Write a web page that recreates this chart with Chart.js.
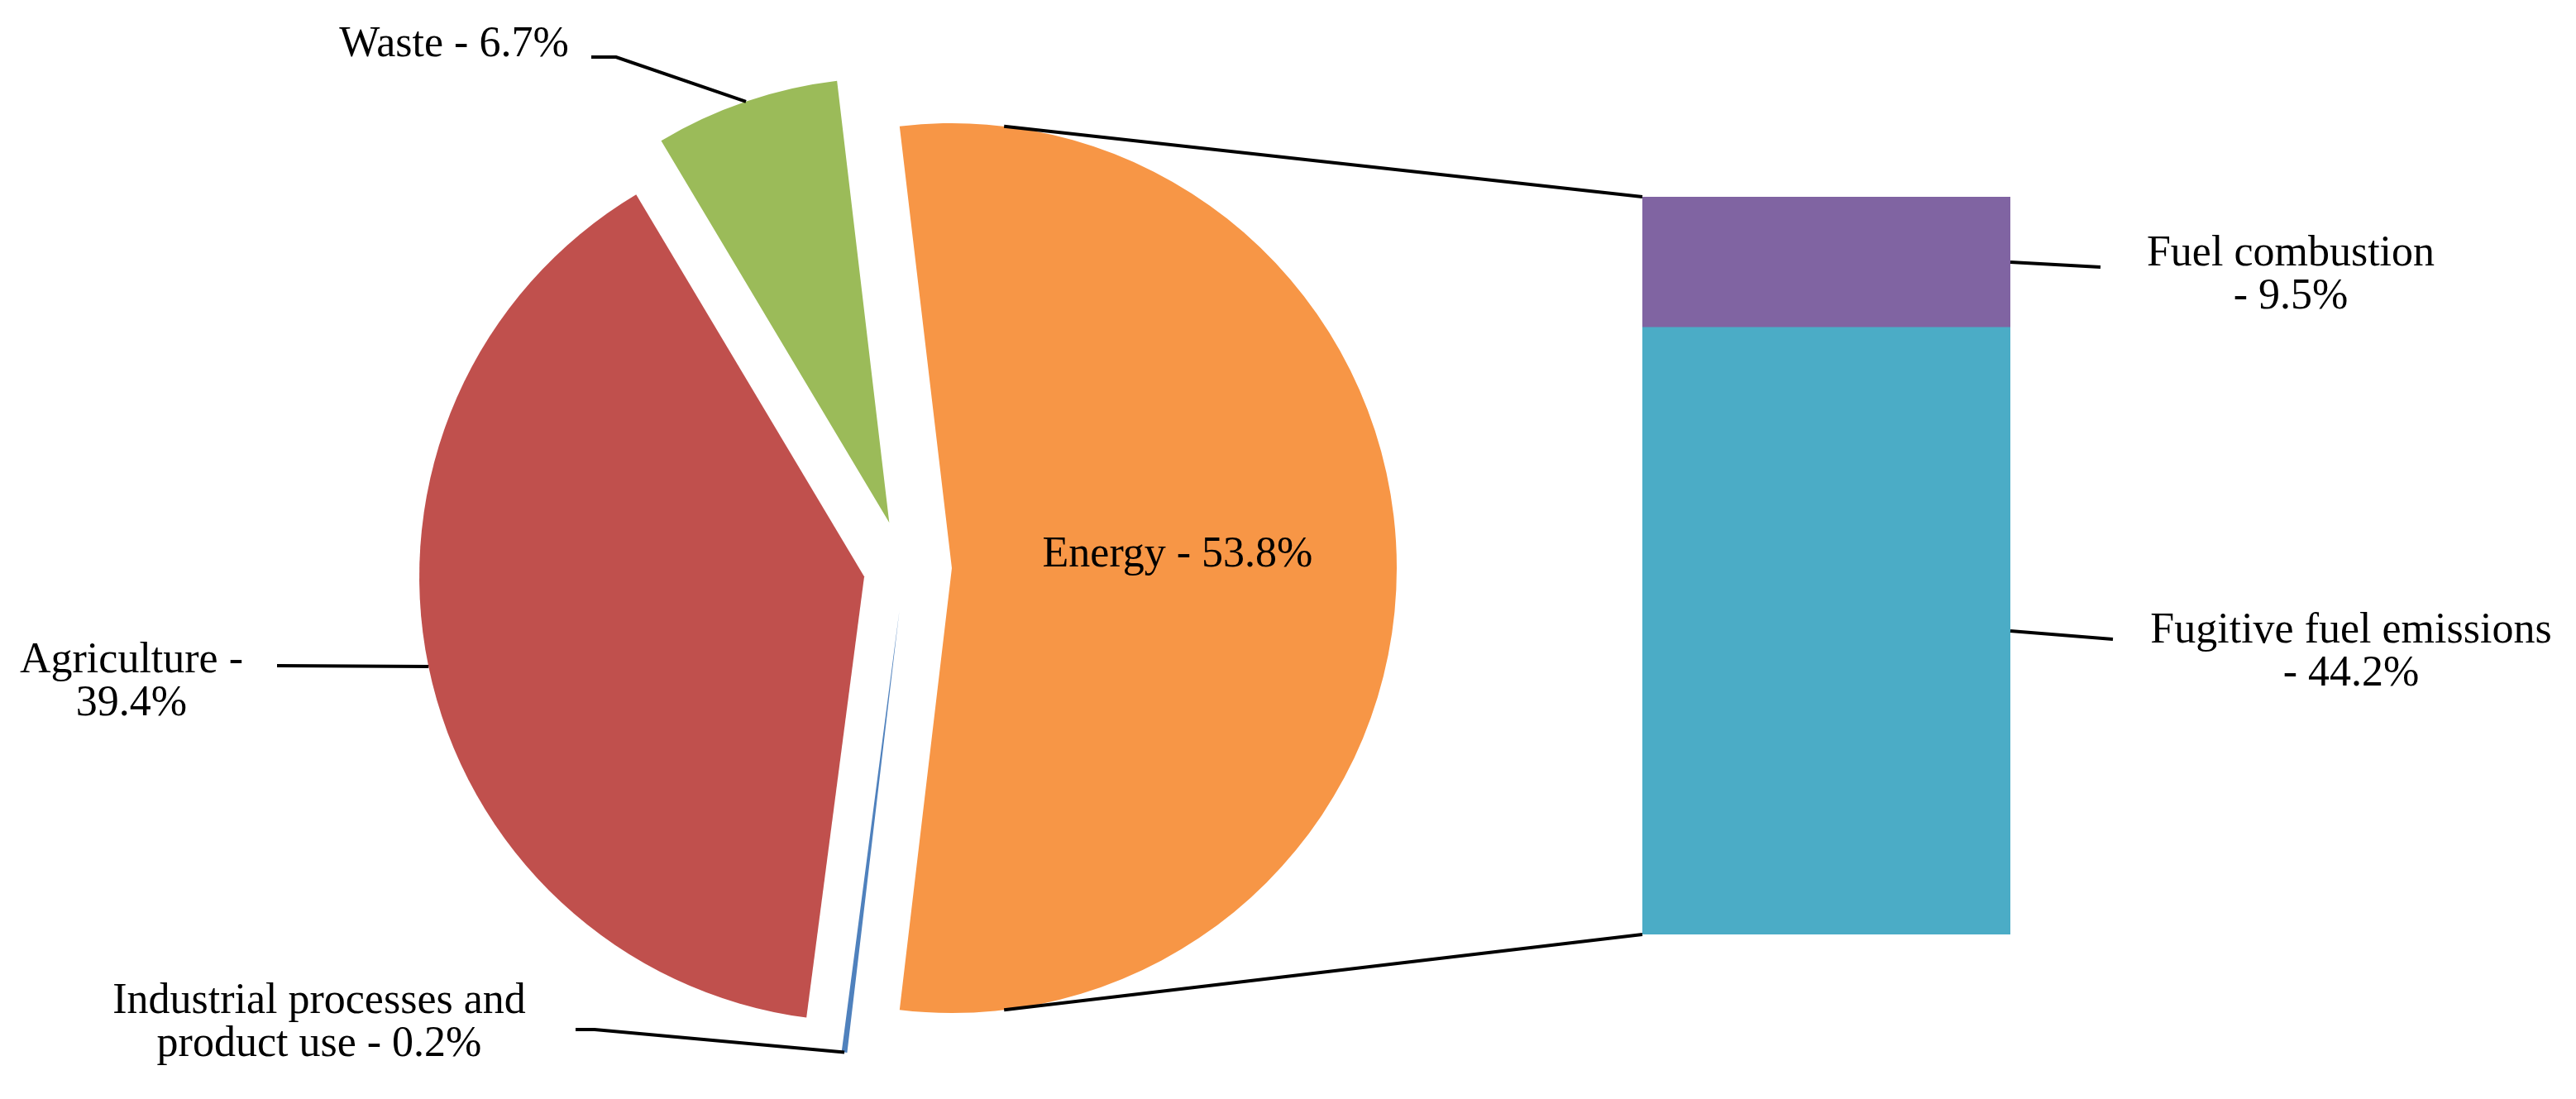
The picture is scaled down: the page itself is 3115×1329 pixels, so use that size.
<!DOCTYPE html>
<html>
<head>
<meta charset="utf-8">
<title>Emissions by sector</title>
<script src="https://cdn.jsdelivr.net/npm/chart.js@4.4.1/dist/chart.umd.min.js"></script>
<style>
  html, body { margin: 0; padding: 0; background: #fff; }
  #wrap { position: relative; width: 3115px; height: 1329px; }
  #wrap canvas { position: absolute; left: 0; top: 0; }
</style>
</head>
<body>
<div id="wrap">
  <canvas id="pieChart" width="3115" height="1329"></canvas>
  <canvas id="barChart" width="3115" height="1329"></canvas>
</div>
<script>
// pie: sectors, clockwise from the top edge of Energy
const sectors = ['Energy', 'Industrial processes and product use', 'Agriculture', 'Waste'];
const sectorShares = [53.8, 0.2, 39.4, 6.7];
const sectorText = [
  ['Energy - 53.8%'],
  ['Industrial processes and', 'product use - 0.2%'],
  ['Agriculture -', '39.4%'],
  ['Waste - 6.7%'],
];

// bar: split of Energy, bottom to top
const energyParts = ['Fugitive fuel emissions', 'Fuel combustion'];
const energyShares = [44.2, 9.5];
const energyText = [
  ['Fugitive fuel emissions', '- 44.2%'],
  ['Fuel combustion', '- 9.5%'],
];

const FONT = '52px "Liberation Serif", "Times New Roman", serif';
const LINE_H = 52;
const PIE_COLORS = ['#F79646', '#4F81BD', '#C0504D', '#9BBB59'];
const BAR_COLORS = ['#4BACC6', '#8064A2'];
const EXPLODE = [57, 52, 50, 58];

// callout layout (text centre x, first baseline, leader knee/end)
const pieCallouts = [
  null,
  { x: 386, y: 1225, knee: [719, 1245], end: [696, 1245] },
  { x: 159, y: 813, knee: null, end: [335, 805] },
  { x: 549, y: 68, knee: [745, 69], end: [715, 69] },
];
const barCallouts = [
  { x: 2843, y: 777, end: [2555, 773] },
  { x: 2770, y: 321, end: [2540, 323] },
];

const total = sectorShares.reduce((a, b) => a + b, 0);
const energyTotal = energyShares.reduce((a, b) => a + b, 0);

function drawLines(ctx, lines, x, y) {
  lines.forEach((t, i) => ctx.fillText(t, x, y + i * LINE_H));
}

const explodePlugin = {
  id: 'explode',
  afterDatasetsUpdate(chart) {
    chart.getDatasetMeta(0).data.forEach((arc, i) => {
      const mid = (arc.startAngle + arc.endAngle) / 2;
      arc.x += Math.cos(mid) * EXPLODE[i];
      arc.y += Math.sin(mid) * EXPLODE[i];
    });
  },
};

const pieLabelPlugin = {
  id: 'pieLabels',
  afterDraw(chart) {
    const ctx = chart.ctx;
    const arcs = chart.getDatasetMeta(0).data;
    ctx.save();
    ctx.font = FONT;
    ctx.fillStyle = '#000';
    ctx.strokeStyle = '#000';
    ctx.lineWidth = 4;
    ctx.textAlign = 'center';
    ctx.textBaseline = 'alphabetic';

    const cp = arcs[0].getCenterPoint();
    drawLines(ctx, sectorText[0], cp.x + 4, cp.y - 2);

    arcs.forEach((arc, i) => {
      const c = pieCallouts[i];
      if (!c) return;
      const mid = (arc.startAngle + arc.endAngle) / 2;
      const px = arc.x + Math.cos(mid) * arc.outerRadius;
      const py = arc.y + Math.sin(mid) * arc.outerRadius;
      ctx.beginPath();
      ctx.moveTo(px, py);
      if (c.knee) ctx.lineTo(c.knee[0], c.knee[1]);
      ctx.lineTo(c.end[0], c.end[1]);
      ctx.stroke();
      drawLines(ctx, sectorText[i], c.x, c.y);
    });
    ctx.restore();
  },
};

const pieChart = new Chart(document.getElementById('pieChart'), {
  type: 'pie',
  data: {
    labels: sectors,
    datasets: [{
      data: sectorShares,
      backgroundColor: PIE_COLORS,
      borderWidth: 0,
    }],
  },
  options: {
    responsive: false,
    animation: false,
    radius: 538,
    rotation: 90 - (sectorShares[0] / total) * 180,
    layout: { padding: { left: 0, right: 927, top: 45, bottom: 0 } },
    plugins: {
      legend: { display: false },
      tooltip: { enabled: false },
    },
  },
  plugins: [explodePlugin, pieLabelPlugin],
});

const barLabelPlugin = {
  id: 'barLabels',
  afterDraw(chart) {
    const ctx = chart.ctx;
    const bars = energyParts.map((_, i) => chart.getDatasetMeta(i).data[0]);
    ctx.save();
    ctx.strokeStyle = '#000';
    ctx.fillStyle = '#000';
    ctx.font = FONT;
    ctx.textAlign = 'center';

    // connectors from the Energy slice to the bar
    const e = pieChart.getDatasetMeta(0).data[0];
    const r = e.outerRadius;
    const topA = -Math.PI - e.startAngle;
    const botA = Math.PI - e.endAngle;
    const topBar = bars[bars.length - 1];
    const botBar = bars[0];
    ctx.lineWidth = 4;
    ctx.beginPath();
    ctx.moveTo(e.x + Math.cos(topA) * r, e.y + Math.sin(topA) * r);
    ctx.lineTo(topBar.x - topBar.width / 2, topBar.y);
    ctx.moveTo(e.x + Math.cos(botA) * r, e.y + Math.sin(botA) * r);
    ctx.lineTo(botBar.x - botBar.width / 2, botBar.base);
    ctx.stroke();

    bars.forEach((bar, i) => {
      const c = barCallouts[i];
      ctx.beginPath();
      ctx.moveTo(bar.x + bar.width / 2, (bar.y + bar.base) / 2);
      ctx.lineTo(c.end[0], c.end[1]);
      ctx.stroke();
      drawLines(ctx, energyText[i], c.x, c.y);
    });
    ctx.restore();
  },
};

new Chart(document.getElementById('barChart'), {
  type: 'bar',
  data: {
    labels: ['Energy'],
    datasets: energyParts.map((name, i) => ({
      label: name,
      data: [energyShares[i]],
      backgroundColor: BAR_COLORS[i],
      borderWidth: 0,
      categoryPercentage: 1,
      barPercentage: 1,
    })),
  },
  options: {
    responsive: false,
    animation: false,
    layout: { padding: { left: 1986, right: 684, top: 238, bottom: 199 } },
    scales: {
      x: { stacked: true, display: false },
      y: { stacked: true, display: false, min: 0, max: energyTotal },
    },
    plugins: {
      legend: { display: false },
      tooltip: { enabled: false },
    },
  },
  plugins: [barLabelPlugin],
});
</script>
</body>
</html>
